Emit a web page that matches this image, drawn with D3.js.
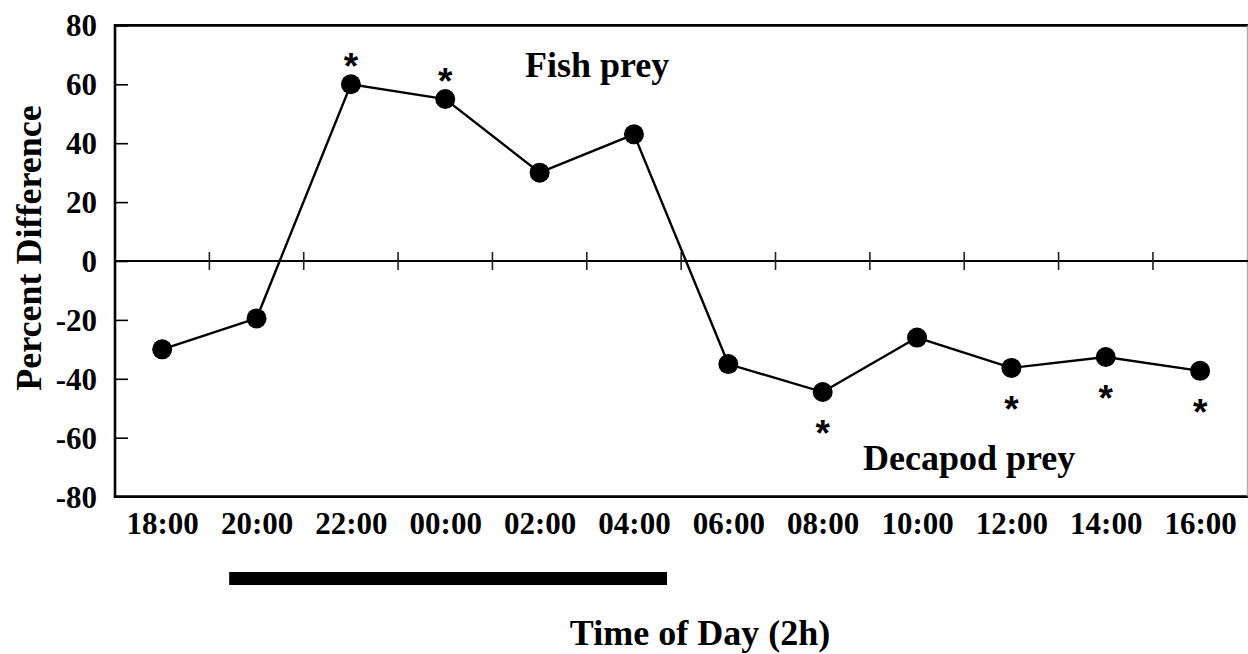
<!DOCTYPE html>
<html>
<head>
<meta charset="utf-8">
<script src="https://cdn.jsdelivr.net/npm/d3@7"></script>
<style>
  html, body { margin: 0; padding: 0; background: #fff; }
  svg { display: block; }
  text { font-family: "Liberation Serif", "Times New Roman", serif; font-weight: bold; fill: #000; }
</style>
</head>
<body>
<svg id="chart" width="1248" height="654"></svg>
<script>
// ---- data ----
const timeLabels = ["18:00","20:00","22:00","00:00","02:00","04:00","06:00","08:00","10:00","12:00","14:00","16:00"];
const hours      = [18, 20, 22, 24, 26, 28, 30, 32, 34, 36, 38, 40];   // hours since midnight of day 1
const percentDiff = [-30, -19.5, 60, 55, 30, 43, -35, -44.5, -26, -36.3, -32.6, -37.3];
const significant = [false, false, true, true, false, false, false, true, false, true, true, true];
const yTickValues = [-80, -60, -40, -20, 0, 20, 40, 60, 80];
const zeroTickHours = [19, 21, 23, 25, 27, 29, 31, 33, 35, 37, 39];
const darkPeriod = [19.42, 28.7];   // night bar (hours)
const xDomain = [17, 41];
const yDomain = [-80, 80];

// ---- layout ----
const svg = d3.select("#chart");
const pLeft = 115, pRight = 1247.3, pTop = 25.4, pBottom = 496.6;

const x = d3.scaleLinear().domain(xDomain).range([pLeft, pRight]);
const y = d3.scaleLinear().domain(yDomain).range([pBottom, pTop]);

// frame
svg.append("line").attr("x1", pLeft).attr("x2", 1248).attr("y1", pTop).attr("y2", pTop)
  .attr("stroke", "#000").attr("stroke-width", 2.6);
svg.append("line").attr("x1", pLeft).attr("x2", 1248).attr("y1", pBottom).attr("y2", pBottom)
  .attr("stroke", "#000").attr("stroke-width", 2.6);
svg.append("line").attr("x1", pLeft).attr("x2", pLeft).attr("y1", pTop - 1.3).attr("y2", pBottom + 1.3)
  .attr("stroke", "#000").attr("stroke-width", 2.6);
svg.append("line").attr("x1", pRight).attr("x2", pRight).attr("y1", pTop).attr("y2", pBottom)
  .attr("stroke", "#999").attr("stroke-width", 1);

// y axis (inward ticks)
const yAxis = d3.axisLeft(y).tickValues(yTickValues).tickSize(-13).tickFormat(d => String(d));
const gy = svg.append("g").attr("transform", `translate(${pLeft},0)`).call(yAxis);
gy.select(".domain").remove();
gy.selectAll(".tick line").attr("stroke", "#000").attr("stroke-width", 1.6);
gy.selectAll(".tick text").attr("font-size", 31).attr("x", -18).attr("dy", "0.34em")
  .style("font-family", '"Liberation Serif", serif').style("font-weight", "bold");

// x tick labels
const gx = svg.append("g").attr("transform", `translate(0,${pBottom})`)
  .call(d3.axisBottom(x).tickValues(hours).tickSize(0).tickFormat((d, i) => timeLabels[i]));
gx.select(".domain").remove();
gx.selectAll(".tick text").attr("font-size", 31).attr("y", 0).attr("dy", 37)
  .style("font-family", '"Liberation Serif", serif').style("font-weight", "bold");

// zero line with crossing ticks
svg.append("line").attr("x1", pLeft).attr("x2", 1248).attr("y1", y(0)).attr("y2", y(0))
  .attr("stroke", "#000").attr("stroke-width", 2.2);
svg.append("g").selectAll("line").data(zeroTickHours).join("line")
  .attr("x1", d => x(d)).attr("x2", d => x(d))
  .attr("y1", y(0) - 9).attr("y2", y(0) + 9)
  .attr("stroke", "#222").attr("stroke-width", 1.6);

// data line
const pts = hours.map((h, i) => ({h, v: percentDiff[i], s: significant[i]}));
svg.append("path").datum(pts)
  .attr("fill", "none").attr("stroke", "#000").attr("stroke-width", 2.4)
  .attr("d", d3.line().x(d => x(d.h)).y(d => y(d.v)));

svg.append("g").selectAll("circle").data(pts).join("circle")
  .attr("cx", d => x(d.h)).attr("cy", d => y(d.v)).attr("r", 10).attr("fill", "#000");

// significance asterisks
svg.append("g").selectAll("text").data(pts.filter(d => d.s)).join("text")
  .attr("x", d => x(d.h))
  .attr("y", d => d.v >= 0 ? y(d.v) - 26 : y(d.v) + 33)
  .attr("dy", 21)
  .attr("text-anchor", "middle").attr("font-size", 37)
  .style("font-family", '"Liberation Sans", Arial, sans-serif')
  .style("font-weight", "bold")
  .text("*");

// series labels
svg.append("text").attr("x", 525).attr("y", 77).attr("font-size", 36).text("Fish prey");
svg.append("text").attr("x", 863).attr("y", 470).attr("font-size", 36).text("Decapod prey");

// night bar
svg.append("rect")
  .attr("x", x(darkPeriod[0])).attr("width", x(darkPeriod[1]) - x(darkPeriod[0]))
  .attr("y", 572).attr("height", 13).attr("fill", "#000");

// axis titles
svg.append("text").attr("x", 700).attr("y", 645).attr("text-anchor", "middle")
  .attr("font-size", 36).text("Time of Day (2h)");
svg.append("text").attr("transform", "translate(41,248) rotate(-90)")
  .attr("text-anchor", "middle").attr("font-size", 36).text("Percent Difference");
</script>
</body>
</html>
